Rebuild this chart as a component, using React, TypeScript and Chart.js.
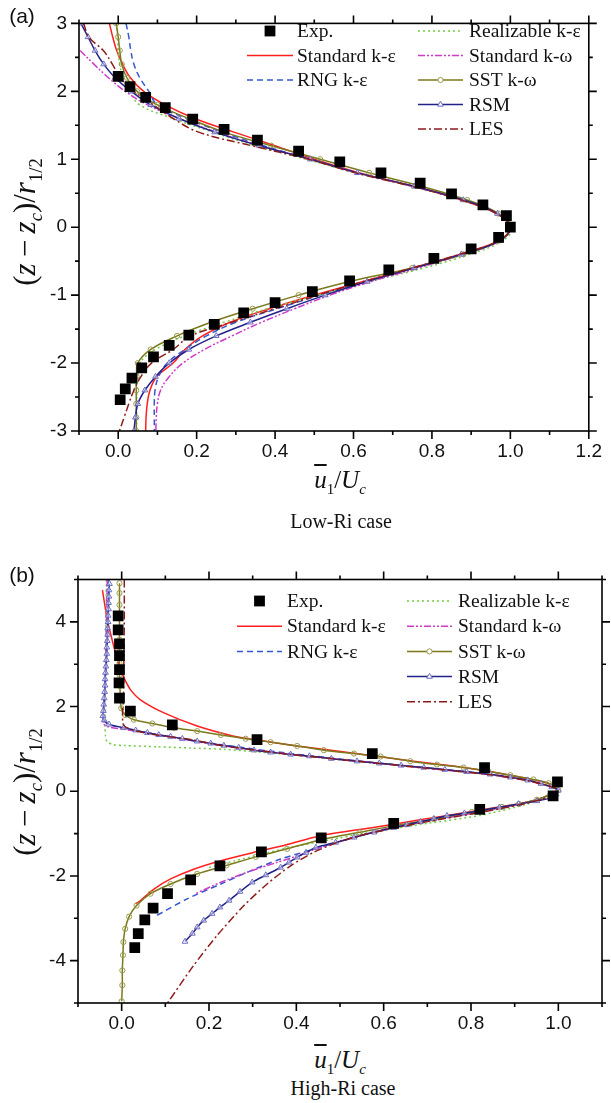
import React, { useEffect, useRef } from 'react';
import { Chart, registerables } from 'chart.js';
Chart.register(...registerables);

// ---------------- Panel (a) data : Low-Ri case ----------------
const A_Y = [3.0, 2.8, 2.6, 2.4, 2.2, 2.0, 1.8, 1.6, 1.4, 1.2, 1.0, 0.8, 0.6, 0.4, 0.2, 0.0, -0.2, -0.4, -0.6, -0.8, -1.0, -1.2, -1.4, -1.6, -1.8, -2.0, -2.2, -2.4, -2.6, -2.8, -3.0];
const A_STD_KE = [-0.0225, -0.014, -0.004, 0.011, 0.031, 0.065, 0.12, 0.195, 0.295, 0.4, 0.5, 0.615, 0.755, 0.875, 0.965, 1.0, 0.97, 0.87, 0.75, 0.625, 0.5, 0.385, 0.285, 0.215, 0.17, 0.14, 0.098, 0.081, 0.074, 0.071, 0.07];
const A_RNG = [0.02, 0.027, 0.032, 0.04, 0.055, 0.078, 0.1, 0.175, 0.265, 0.37, 0.49, 0.612, 0.755, 0.88, 0.966, 1.0, 0.972, 0.875, 0.755, 0.63, 0.515, 0.405, 0.3, 0.225, 0.17, 0.125, 0.103, 0.094, 0.092, 0.092, 0.092];
const A_REAL = [-0.005, -0.002, 0.0, 0.004, 0.012, 0.03, 0.055, 0.14, 0.24, 0.35, 0.48, 0.605, 0.75, 0.878, 0.968, 1.005, 0.98, 0.895, 0.78, 0.64, 0.51, 0.38, 0.27, 0.17, 0.095, 0.055, 0.05, 0.048, 0.047, 0.047, 0.047];
const A_STD_KW = [null, null, -0.097, -0.062, -0.025, 0.018, 0.075, 0.155, 0.25, 0.36, 0.49, 0.61, 0.752, 0.878, 0.966, 1.0, 0.973, 0.88, 0.765, 0.645, 0.54, 0.45, 0.365, 0.29, 0.22, 0.165, 0.13, 0.108, 0.1, 0.097, 0.096];
const A_SST = [-0.005, 0.0, 0.004, 0.009, 0.022, 0.048, 0.1, 0.18, 0.27, 0.39, 0.515, 0.64, 0.775, 0.89, 0.97, 1.0, 0.97, 0.88, 0.75, 0.59, 0.46, 0.343, 0.237, 0.15, 0.083, 0.05, 0.047, 0.046, 0.046, 0.046, 0.046];
const A_RSM = [-0.095, -0.077, -0.059, -0.037, -0.008, 0.033, 0.083, 0.155, 0.246, 0.36, 0.49, 0.61, 0.755, 0.88, 0.967, 1.0, 0.972, 0.875, 0.755, 0.635, 0.528, 0.43, 0.337, 0.25, 0.18, 0.13, 0.095, 0.068, 0.05, 0.044, 0.04];
const A_LES = [-0.088, -0.075, -0.038, -0.015, 0.005, 0.04, 0.09, 0.14, 0.205, 0.34, 0.485, 0.605, 0.75, 0.875, 0.965, 1.0, 0.97, 0.87, 0.75, 0.625, 0.51, 0.4, 0.29, 0.185, 0.14, 0.085, 0.058, 0.04, 0.027, 0.015, 0.003];
const A_EXP_X = [0.0, 0.03, 0.07, 0.12, 0.19, 0.27, 0.355, 0.46, 0.565, 0.67, 0.77, 0.85, 0.93, 0.99, 1.0, 0.97, 0.9, 0.805, 0.69, 0.59, 0.495, 0.4, 0.32, 0.245, 0.18, 0.13, 0.09, 0.06, 0.035, 0.018, 0.005];
const A_EXP_Y = [2.22, 2.07, 1.91, 1.76, 1.59, 1.44, 1.28, 1.12, 0.96, 0.8, 0.65, 0.49, 0.33, 0.17, 0.0, -0.15, -0.32, -0.46, -0.63, -0.79, -0.95, -1.11, -1.26, -1.43, -1.59, -1.74, -1.91, -2.07, -2.22, -2.38, -2.54];

// ---------------- Panel (b) data : High-Ri case ----------------
const B_EXP_X = [-0.008, -0.008, -0.005, -0.005, -0.005, -0.006, -0.005, 0.02, 0.116, 0.31, 0.574, 0.831, 0.998, 0.988, 0.82, 0.623, 0.457, 0.32, 0.225, 0.158, 0.105, 0.072, 0.053, 0.038, 0.03];
const B_EXP_Y = [4.14, 3.81, 3.48, 3.2, 2.87, 2.56, 2.2, 1.89, 1.57, 1.22, 0.89, 0.56, 0.22, -0.11, -0.43, -0.76, -1.1, -1.43, -1.76, -2.09, -2.42, -2.76, -3.04, -3.36, -3.69];
const B_STD_KE_X = [-0.044, -0.033, -0.016, -0.004, 0.007, 0.02, 0.043, 0.097, 0.173, 0.257, 0.31, 0.4, 0.532, 0.66, 0.783, 0.89, 0.975, 1.0, 0.982, 0.94, 0.86, 0.77, 0.68, 0.58, 0.455, 0.364, 0.3, 0.227, 0.165, 0.112, 0.074, 0.043, 0.032];
const B_STD_KE_Y = [4.75, 4.05, 3.34, 2.9, 2.64, 2.4, 2.16, 1.85, 1.54, 1.3, 1.21, 1.07, 0.9, 0.72, 0.56, 0.38, 0.19, 0.03, -0.08, -0.23, -0.38, -0.53, -0.68, -0.85, -1.05, -1.3, -1.45, -1.64, -1.84, -2.07, -2.31, -2.58, -2.66];
const B_RNG_X = [-0.03, -0.032, -0.035, -0.04, -0.043, -0.03, 0.0, 0.028, 0.112, 0.234, 0.387, 0.539, 0.692, 0.844, 0.93, 0.985, 1.0, 0.98, 0.92, 0.82, 0.72, 0.623, 0.516, 0.44, 0.364, 0.288, 0.227, 0.15, 0.074];
const B_RNG_Y = [5.0, 4.0, 3.0, 2.0, 1.7, 1.58, 1.5, 1.44, 1.28, 1.09, 0.89, 0.72, 0.56, 0.4, 0.26, 0.1, 0.02, -0.11, -0.28, -0.48, -0.66, -0.84, -1.14, -1.37, -1.6, -1.91, -2.19, -2.54, -2.97];
const B_REAL_X = [-0.035, -0.036, -0.037, -0.038, -0.038, -0.037, -0.034, -0.02, 0.005, 0.082, 0.16, 0.234, 0.31, 0.4, 0.48, 0.539, 0.692, 0.844, 0.93, 0.985, 1.0, 0.98, 0.93, 0.821, 0.7, 0.58, 0.5, 0.44, 0.38, 0.318, 0.26, 0.2];
const B_REAL_Y = [5.0, 4.0, 3.0, 2.0, 1.5, 1.3, 1.18, 1.1, 1.08, 1.05, 1.02, 0.99, 0.93, 0.85, 0.77, 0.71, 0.55, 0.39, 0.25, 0.1, 0.02, -0.12, -0.3, -0.57, -0.76, -0.95, -1.1, -1.22, -1.34, -1.5, -1.64, -1.8];
const B_STD_KW_X = [-0.033, -0.035, -0.037, -0.04, -0.042, -0.03, 0.0, 0.059, 0.112, 0.234, 0.387, 0.539, 0.692, 0.844, 0.93, 0.985, 1.0, 0.985, 0.92, 0.82, 0.72, 0.623, 0.52, 0.44, 0.41, 0.356, 0.288, 0.227, 0.169];
const B_STD_KW_Y = [5.0, 4.0, 3.0, 2.0, 1.6, 1.52, 1.47, 1.38, 1.28, 1.07, 0.87, 0.71, 0.55, 0.39, 0.25, 0.1, 0.01, -0.12, -0.29, -0.49, -0.67, -0.85, -1.12, -1.38, -1.5, -1.68, -1.91, -2.15, -2.42];
const B_SST_X = [-0.005, -0.005, -0.005, -0.005, -0.005, -0.005, -0.005, -0.005, -0.005, -0.004, -0.003, -0.001, 0.008, 0.028, 0.07, 0.12, 0.173, 0.227, 0.284, 0.341, 0.402, 0.463, 0.532, 0.593, 0.661, 0.722, 0.783, 0.84, 0.89, 0.943, 0.978, 1.0, 0.982, 0.951, 0.91, 0.871, 0.802, 0.715, 0.631, 0.545, 0.463, 0.379, 0.307, 0.24, 0.173, 0.112, 0.066, 0.034, 0.017, 0.008, 0.004, 0.003, 0.0015, 0.0015, 0.0];
const B_SST_Y = [4.91, 4.68, 4.4, 4.12, 3.85, 3.58, 3.3, 3.03, 2.75, 2.48, 2.2, 1.96, 1.8, 1.69, 1.6, 1.5, 1.42, 1.33, 1.24, 1.16, 1.07, 0.97, 0.89, 0.82, 0.71, 0.63, 0.56, 0.47, 0.38, 0.28, 0.19, 0.03, -0.07, -0.2, -0.3, -0.37, -0.49, -0.66, -0.8, -0.97, -1.13, -1.36, -1.55, -1.75, -1.95, -2.19, -2.42, -2.7, -2.96, -3.25, -3.56, -3.87, -4.23, -4.58, -4.96];
const B_RSM_X = [-0.028, -0.029, -0.029, -0.03, -0.03, -0.031, -0.031, -0.032, -0.032, -0.033, -0.034, -0.034, -0.035, -0.036, -0.037, -0.038, -0.038, -0.039, -0.04, -0.041, -0.042, -0.043, -0.04,
  -0.029, 0.005, 0.032, 0.059, 0.085, 0.112, 0.139, 0.173, 0.204, 0.234, 0.268, 0.303, 0.341, 0.387, 0.43, 0.48, 0.539, 0.59, 0.64, 0.692, 0.74, 0.79, 0.844, 0.89, 0.93, 0.96, 0.985, 1.0,
  0.995, 0.985, 0.951, 0.909, 0.865, 0.821, 0.785, 0.745, 0.715, 0.684, 0.653, 0.623, 0.578, 0.532, 0.49, 0.445, 0.422, 0.402, 0.383, 0.364, 0.33, 0.299, 0.271, 0.246, 0.225, 0.207, 0.188, 0.173, 0.162, 0.145];
const B_RSM_Y = [4.9, 4.75, 4.6, 4.45, 4.3, 4.15, 4.0, 3.85, 3.7, 3.55, 3.4, 3.25, 3.1, 2.95, 2.8, 2.65, 2.5, 2.35, 2.2, 2.05, 1.9, 1.78, 1.68,
  1.58, 1.5, 1.44, 1.38, 1.33, 1.29, 1.24, 1.18, 1.13, 1.08, 1.03, 0.97, 0.92, 0.87, 0.83, 0.77, 0.71, 0.66, 0.61, 0.56, 0.51, 0.46, 0.4, 0.33, 0.26, 0.18, 0.1, 0.02,
  -0.07, -0.15, -0.23, -0.3, -0.38, -0.46, -0.52, -0.58, -0.65, -0.72, -0.79, -0.86, -0.97, -1.09, -1.21, -1.33, -1.45, -1.56, -1.68, -1.8, -1.98, -2.15, -2.37, -2.58, -2.74, -2.89, -3.05, -3.21, -3.36, -3.55];
const B_LES_X = [0.006, 0.006, 0.005, 0.004, 0.002, 0.005, 0.03, 0.08, 0.158, 0.234, 0.387, 0.539, 0.692, 0.844, 0.93, 0.985, 1.0, 0.98, 0.92, 0.82, 0.72, 0.62, 0.545, 0.494, 0.44, 0.387, 0.333, 0.28, 0.219, 0.165, 0.105];
const B_LES_Y = [5.0, 4.0, 3.0, 2.2, 1.8, 1.55, 1.43, 1.33, 1.22, 1.07, 0.87, 0.71, 0.55, 0.39, 0.25, 0.1, 0.02, -0.13, -0.3, -0.5, -0.68, -0.88, -1.05, -1.21, -1.44, -1.76, -2.19, -2.7, -3.4, -4.11, -5.0];

// ---------------- ticks ----------------
const A_X_MAJOR = [0, 0.2, 0.4, 0.6, 0.8, 1.0, 1.2];
const A_X_MINOR = [-0.1, 0.1, 0.3, 0.5, 0.7, 0.9, 1.1];
const A_Y_MAJOR = [-3, -2, -1, 0, 1, 2, 3];
const A_Y_MINOR = [-2.5, -1.5, -0.5, 0.5, 1.5, 2.5];
const B_X_MAJOR = [0, 0.2, 0.4, 0.6, 0.8, 1.0];
const B_X_MINOR = [-0.1, 0.1, 0.3, 0.5, 0.7, 0.9, 1.1];
const B_Y_MAJOR = [-4, -2, 0, 2, 4];
const B_Y_MINOR = [-5, -3, -1, 1, 3, 5];

const LABELS: any = {
  exp: 'Exp.', stdke: 'Standard k-ε', rng: 'RNG k-ε', real: 'Realizable k-ε',
  stdkw: 'Standard k-ω', sst: 'SST k-ω', rsm: 'RSM', les: 'LES',
};

const STY: any = {
  exp: { color: '#000000', dash: [], marker: 'rect' },
  stdke: { color: '#ff1f1f', dash: [] },
  rng: { color: '#3558d0', dash: [6, 4] },
  real: { color: '#74cc44', dash: [2, 3] },
  stdkw: { color: '#d03ac8', dash: [7, 2, 2, 2, 2, 2] },
  sst: { color: '#7a7a1c', dash: [], marker: 'circle', mcolor: '#9b9b50' },
  rsm: { color: '#22228a', dash: [], marker: 'triangle', mcolor: '#6c6cc4' },
  les: { color: '#8e1b1b', dash: [8, 3, 2, 3] },
};

const SERIF = "'Liberation Serif', 'Times New Roman', serif";
const SANS = "'Liberation Sans', Arial, sans-serif";

function pts(xs: (number | null)[], ys: (number | null)[]) {
  const out: { x: number; y: number }[] = [];
  xs.forEach((x, i) => {
    const y = ys[i];
    if (x !== null && y !== null && y !== undefined) out.push({ x, y });
  });
  return out;
}

function lineDs(key: string, data: any[], tension: number) {
  const s = STY[key];
  const ds: any = {
    label: LABELS[key], data, showLine: true, fill: false,
    borderColor: s.color, borderWidth: 1.5, borderDash: s.dash, tension,
    pointRadius: 0, pointHoverRadius: 0,
  };
  if (s.marker === 'circle') {
    Object.assign(ds, { pointStyle: 'circle', pointRadius: 2.6, pointBorderColor: s.mcolor, pointBackgroundColor: 'rgba(255,255,255,0)', pointBorderWidth: 1 });
  }
  if (s.marker === 'triangle') {
    Object.assign(ds, { pointStyle: 'triangle', pointRadius: 3.3, pointBorderColor: s.mcolor, pointBackgroundColor: 'rgba(255,255,255,0.5)', pointBorderWidth: 1 });
  }
  return ds;
}

function expDs(data: any[]) {
  return { label: 'Exp.', data, showLine: false, pointStyle: 'rect', pointRadius: 7.6, pointBackgroundColor: '#000', pointBorderColor: '#000', pointBorderWidth: 0 };
}

function framePlugin(xMaj: number[], xMin: number[], yMaj: number[], yMin: number[]) {
  return {
    id: 'frameTicks',
    afterDraw(chart: any) {
      const { ctx, chartArea } = chart;
      const { left, right, top, bottom } = chartArea;
      const sx = chart.scales.x, sy = chart.scales.y;
      ctx.save();
      ctx.strokeStyle = '#000';
      ctx.lineWidth = 1.6;
      ctx.setLineDash([]);
      ctx.strokeRect(left, top, right - left, bottom - top);
      ctx.beginPath();
      const xt = (v: number, len: number) => {
        const p = sx.getPixelForValue(v);
        ctx.moveTo(p, bottom); ctx.lineTo(p, bottom + len);
        ctx.moveTo(p, top); ctx.lineTo(p, top - len);
      };
      const yt = (v: number, len: number) => {
        const p = sy.getPixelForValue(v);
        ctx.moveTo(left, p); ctx.lineTo(left - len, p);
        ctx.moveTo(right, p); ctx.lineTo(right + len, p);
      };
      xMaj.forEach((v) => xt(v, 8));
      xMin.forEach((v) => xt(v, 4));
      yMaj.forEach((v) => yt(v, 8));
      yMin.forEach((v) => yt(v, 4));
      ctx.stroke();
      ctx.restore();
    },
  };
}

type LegendGeom = { cols: { x1: number; x2: number; tx: number }[]; y0: number; dy: number };
const LEGEND_ITEMS = [
  { key: 'exp', col: 0, row: 0 }, { key: 'stdke', col: 0, row: 1 }, { key: 'rng', col: 0, row: 2 },
  { key: 'real', col: 1, row: 0 }, { key: 'stdkw', col: 1, row: 1 }, { key: 'sst', col: 1, row: 2 },
  { key: 'rsm', col: 1, row: 3 }, { key: 'les', col: 1, row: 4 },
];

function drawMarker(ctx: any, kind: string, x: number, y: number, color: string) {
  ctx.setLineDash([]);
  if (kind === 'rect') {
    ctx.fillStyle = color;
    ctx.fillRect(x - 5.4, y - 5.4, 10.8, 10.8);
  } else if (kind === 'circle') {
    ctx.strokeStyle = color; ctx.lineWidth = 1; ctx.fillStyle = '#fff';
    ctx.beginPath(); ctx.arc(x, y, 2.6, 0, Math.PI * 2); ctx.fill(); ctx.stroke();
  } else if (kind === 'triangle') {
    const r = 3.3;
    ctx.strokeStyle = color; ctx.lineWidth = 1; ctx.fillStyle = '#fff';
    ctx.beginPath();
    ctx.moveTo(x, y - r);
    ctx.lineTo(x + r * 0.866, y + r * 0.5);
    ctx.lineTo(x - r * 0.866, y + r * 0.5);
    ctx.closePath(); ctx.fill(); ctx.stroke();
  }
}

function legendPlugin(g: LegendGeom) {
  return {
    id: 'legendBox',
    afterDraw(chart: any) {
      const ctx = chart.ctx;
      ctx.save();
      LEGEND_ITEMS.forEach((it) => {
        const s = STY[it.key];
        const c = g.cols[it.col];
        const y = g.y0 + it.row * g.dy;
        const mid = (c.x1 + c.x2) / 2;
        if (it.key !== 'exp') {
          ctx.strokeStyle = s.color; ctx.lineWidth = 1.5; ctx.setLineDash(s.dash);
          ctx.beginPath(); ctx.moveTo(c.x1, y); ctx.lineTo(c.x2, y); ctx.stroke();
        }
        if (s.marker) drawMarker(ctx, s.marker, mid, y, s.mcolor || s.color);
        ctx.setLineDash([]);
        ctx.fillStyle = '#111';
        ctx.font = `19.5px ${SERIF}`;
        ctx.textBaseline = 'middle';
        ctx.textAlign = 'left';
        ctx.fillText(LABELS[it.key], c.tx, y + 1);
      });
      ctx.restore();
    },
  };
}

function makeConfig(opts: any) {
  return {
    type: 'scatter',
    data: { datasets: opts.datasets },
    options: {
      animation: false, responsive: false, maintainAspectRatio: false,
      layout: { padding: { top: opts.padTop, right: opts.padRight, left: 0, bottom: 0 } },
      plugins: { legend: { display: false }, tooltip: { enabled: false } },
      events: [],
      scales: {
        x: {
          type: 'linear', min: opts.xMin, max: opts.xMax,
          afterBuildTicks: (s: any) => { s.ticks = opts.xMaj.map((v: number) => ({ value: v })); },
          afterFit: (s: any) => { s.height = opts.xH; },
          grid: { display: false, drawTicks: false }, border: { display: false },
          ticks: { padding: 9, color: '#111', font: { family: SANS, size: 19 }, autoSkip: false, maxRotation: 0, callback: (v: any) => Number(v).toFixed(1) },
        },
        y: {
          type: 'linear', min: opts.yMin, max: opts.yMax,
          afterBuildTicks: (s: any) => { s.ticks = opts.yMaj.map((v: number) => ({ value: v })); },
          afterFit: (s: any) => { s.width = opts.yW; },
          grid: { display: false, drawTicks: false }, border: { display: false },
          ticks: { padding: 12, color: '#111', font: { family: SANS, size: 19 }, autoSkip: false, callback: (v: any) => String(v) },
        },
      },
    },
    plugins: [framePlugin(opts.xMaj, opts.xMinor, opts.yMaj, opts.yMinor), legendPlugin(opts.legend)],
  };
}

function YTitle({ cx, cy }: { cx: number; cy: number }) {
  return (
    <div style={{ position: 'absolute', left: cx, top: cy, transform: 'translate(-50%,-50%) rotate(-90deg)', whiteSpace: 'nowrap', fontFamily: SERIF, fontSize: 31, lineHeight: 1, color: '#111' }}>
      (<i>z</i>&thinsp;−&thinsp;<i>z</i><sub style={{ fontSize: '0.6em' }}><i>c</i></sub>)/<i>r</i><sub style={{ fontSize: '0.6em' }}>1/2</sub>
    </div>
  );
}

function XTitle({ cx, cy }: { cx: number; cy: number }) {
  return (
    <div style={{ position: 'absolute', left: cx, top: cy, transform: 'translate(-50%,-50%)', whiteSpace: 'nowrap', fontFamily: SERIF, fontSize: 25, lineHeight: 1, color: '#111' }}>
      <i style={{ textDecoration: 'overline' }}>u</i><sub style={{ fontSize: '0.6em' }}>1</sub>/<i>U</i><sub style={{ fontSize: '0.6em' }}><i>c</i></sub>
    </div>
  );
}

function Txt({ cx, cy, text, size, family }: any) {
  return (
    <div style={{ position: 'absolute', left: cx, top: cy, transform: 'translate(-50%,-50%)', whiteSpace: 'nowrap', fontFamily: family, fontSize: size, lineHeight: 1, color: '#111' }}>{text}</div>
  );
}

export default function App() {
  const refA = useRef<HTMLCanvasElement>(null);
  const refB = useRef<HTMLCanvasElement>(null);

  useEffect(() => {
    const tA = 0.4;
    const dsA = [
      expDs(pts(A_EXP_X, A_EXP_Y)),
      lineDs('les', pts(A_LES, A_Y), tA),
      lineDs('rsm', pts(A_RSM, A_Y), tA),
      lineDs('sst', pts(A_SST, A_Y), tA),
      lineDs('stdkw', pts(A_STD_KW, A_Y), tA),
      lineDs('real', pts(A_REAL, A_Y), tA),
      lineDs('rng', pts(A_RNG, A_Y), tA),
      lineDs('stdke', pts(A_STD_KE, A_Y), tA),
    ];
    const tB = 0.25;
    const dsB = [
      expDs(pts(B_EXP_X, B_EXP_Y)),
      lineDs('les', pts(B_LES_X, B_LES_Y), tB),
      lineDs('rsm', pts(B_RSM_X, B_RSM_Y), tB),
      lineDs('sst', pts(B_SST_X, B_SST_Y), tB),
      lineDs('stdkw', pts(B_STD_KW_X, B_STD_KW_Y), tB),
      lineDs('real', pts(B_REAL_X, B_REAL_Y), tB),
      lineDs('rng', pts(B_RNG_X, B_RNG_Y), tB),
      lineDs('stdke', pts(B_STD_KE_X, B_STD_KE_Y), tB),
    ];
    const a = new Chart(refA.current as HTMLCanvasElement, makeConfig({
      datasets: dsA, xMin: -0.1, xMax: 1.2, yMin: -3, yMax: 3,
      xMaj: A_X_MAJOR, xMinor: A_X_MINOR, yMaj: A_Y_MAJOR, yMinor: A_Y_MINOR,
      padTop: 13, padRight: 13, xH: 39, yW: 79,
      legend: { cols: [{ x1: 247, x2: 293, tx: 297 }, { x1: 418, x2: 463, tx: 469 }], y0: 31, dy: 24.5 },
    }) as any);
    const b = new Chart(refB.current as HTMLCanvasElement, makeConfig({
      datasets: dsB, xMin: -0.1, xMax: 1.1, yMin: -5, yMax: 5,
      xMaj: B_X_MAJOR, xMinor: B_X_MINOR, yMaj: B_Y_MAJOR, yMinor: B_Y_MINOR,
      padTop: 39.5, padRight: 9, xH: 37, yW: 78,
      legend: { cols: [{ x1: 237, x2: 282, tx: 287 }, { x1: 407, x2: 452, tx: 458 }], y0: 61, dy: 25.2 },
    }) as any);
    return () => { a.destroy(); b.destroy(); };
  }, []);

  return (
    <div style={{ position: 'absolute', left: 0, top: 0, width: 611, height: 1103, background: '#fff', overflow: 'hidden' }}>
      <canvas ref={refA} width={611} height={470} style={{ position: 'absolute', left: 0, top: 0, width: 611, height: 470 }} />
      <canvas ref={refB} width={611} height={500} style={{ position: 'absolute', left: 0, top: 540, width: 611, height: 500 }} />
      <Txt cx={22} cy={15} text="(a)" size={21} family={SANS} />
      <Txt cx={22} cy={574} text="(b)" size={21} family={SANS} />
      <YTitle cx={27} cy={222} />
      <YTitle cx={27} cy={792} />
      <XTitle cx={340} cy={482} />
      <Txt cx={341} cy={521} text="Low-Ri case" size={20} family={SERIF} />
      <XTitle cx={340} cy={1062} />
      <Txt cx={343} cy={1088} text="High-Ri case" size={20} family={SERIF} />
    </div>
  );
}
